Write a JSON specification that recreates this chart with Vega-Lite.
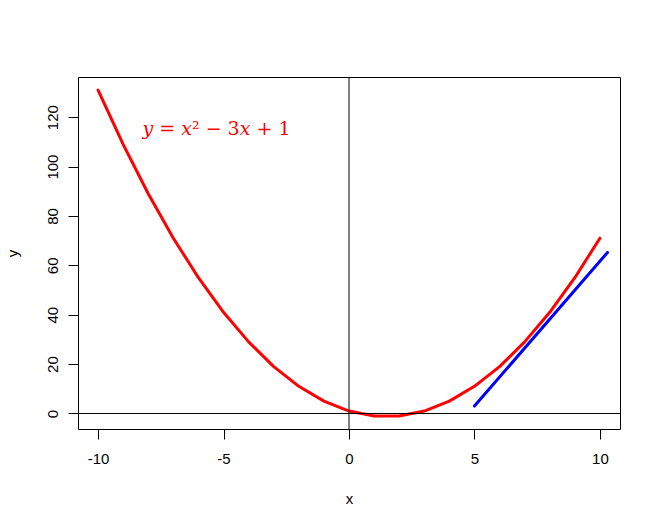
{
  "$schema": "https://vega.github.io/schema/vega-lite/v6.json",
  "width": 542,
  "height": 352,
  "autosize": {"type": "none"},
  "padding": {"left": 78, "top": 77, "right": 41, "bottom": 98},
  "background": "white",
  "config": {
    "view": {"stroke": "black", "strokeWidth": 1},
    "axis": {
      "grid": false,
      "domain": false,
      "tickColor": "black",
      "tickSize": 10,
      "tickWidth": 1,
      "labelColor": "black",
      "labelFont": "Liberation Sans",
      "labelFontSize": 15,
      "labelExpr": "toString(datum.value)",
      "titleFont": "Liberation Sans",
      "titleFontSize": 15,
      "titleFontWeight": "normal",
      "titleColor": "black"
    }
  },
  "datasets": {
    "curve": [
      {"x": -10, "y": 131}, {"x": -9, "y": 109}, {"x": -8, "y": 89}, {"x": -7, "y": 71},
      {"x": -6, "y": 55}, {"x": -5, "y": 41}, {"x": -4, "y": 29}, {"x": -3, "y": 19},
      {"x": -2, "y": 11}, {"x": -1, "y": 5}, {"x": 0, "y": 1}, {"x": 1, "y": -1},
      {"x": 2, "y": -1}, {"x": 3, "y": 1}, {"x": 4, "y": 5}, {"x": 5, "y": 11},
      {"x": 6, "y": 19}, {"x": 7, "y": 29}, {"x": 8, "y": 41}, {"x": 9, "y": 55},
      {"x": 10, "y": 71}
    ],
    "tangent": [
      {"x": 5, "y": 3}, {"x": 10.3, "y": 65.2}
    ],
    "label": [
      {"x": -5.28, "y": 112.8, "text": "𝑦 = 𝑥² − 3𝑥 + 1"}
    ]
  },
  "layer": [
    {
      "data": {"name": "curve"},
      "mark": {"type": "line", "color": "#FF0000", "strokeWidth": 3, "strokeCap": "round", "strokeJoin": "round"},
      "encoding": {
        "x": {
          "field": "x", "type": "quantitative",
          "scale": {"domain": [-10.8, 10.8], "nice": false, "zero": false},
          "axis": {"values": [-10, -5, 0, 5, 10], "title": "x", "labelPadding": 12, "titleBaseline": "alphabetic", "titleY": 74}
        },
        "y": {
          "field": "y", "type": "quantitative",
          "scale": {"domain": [-6.28, 136.28], "nice": false, "zero": false},
          "axis": {"values": [0, 20, 40, 60, 80, 100, 120], "title": "y", "labelAngle": -90, "labelAlign": "center", "labelBaseline": "alphabetic", "labelPadding": 11, "titleAngle": -90, "titleBaseline": "alphabetic", "titleX": -61, "titleY": 176}
        }
      }
    },
    {
      "data": {"name": "tangent"},
      "mark": {"type": "line", "color": "#0000FF", "strokeWidth": 3, "strokeCap": "round"},
      "encoding": {
        "x": {"field": "x", "type": "quantitative"},
        "y": {"field": "y", "type": "quantitative"}
      }
    },
    {
      "data": {"values": [{"v": 0}]},
      "mark": {"type": "rule", "color": "black", "strokeWidth": 1},
      "encoding": {"y": {"field": "v", "type": "quantitative"}}
    },
    {
      "data": {"values": [{"v": 0}]},
      "mark": {"type": "rule", "color": "black", "strokeWidth": 1},
      "encoding": {"x": {"field": "v", "type": "quantitative"}}
    },
    {
      "data": {"name": "label"},
      "mark": {"type": "text", "color": "#FF0000", "font": "DejaVu Serif", "fontSize": 19, "align": "center", "baseline": "alphabetic"},
      "encoding": {
        "x": {"field": "x", "type": "quantitative"},
        "y": {"field": "y", "type": "quantitative"},
        "text": {"field": "text"}
      }
    }
  ]
}
